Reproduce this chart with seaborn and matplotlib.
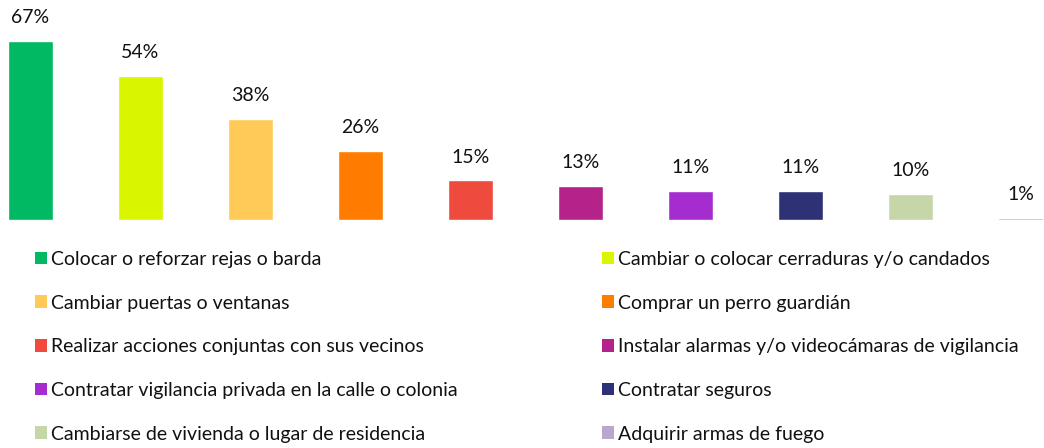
import matplotlib
matplotlib.use("Agg")
import matplotlib.pyplot as plt
import seaborn as sns
import pandas as pd
from matplotlib.patches import Patch

categories = [
    "Colocar o reforzar rejas o barda",
    "Cambiar o colocar cerraduras y/o candados",
    "Cambiar puertas o ventanas",
    "Comprar un perro guardián",
    "Realizar acciones conjuntas con sus vecinos",
    "Instalar alarmas y/o videocámaras de vigilancia",
    "Contratar vigilancia privada en la calle o colonia",
    "Contratar seguros",
    "Cambiarse de vivienda o lugar de residencia",
    "Adquirir armas de fuego",
]
values = [67, 54, 38, 26, 15, 13, 11, 11, 10, 1]
value_labels = ["67%", "54%", "38%", "26%", "15%", "13%", "11%", "11%", "10%", "1%"]
colors = ["#00B962", "#D9F500", "#FFCA57", "#FF7C00", "#EE4A3E",
          "#B5238A", "#A52DCF", "#2E3176", "#C5D6A8", "#B9A7CE"]

sns.set_style("white")
plt.rcParams["font.family"] = ["Lato", "DejaVu Sans"]

df = pd.DataFrame({"cat": categories, "val": values})

fig = plt.figure(figsize=(10.44, 4.48), dpi=100)
ax = fig.add_axes([0, 1 - 220.5 / 448, 1, 220.5 / 448])

sns.barplot(data=df, x="cat", y="val", hue="cat", palette=colors,
            order=categories, hue_order=categories, legend=False,
            width=0.41, saturation=1, ax=ax, dodge=False)

ax.set_xlim(-0.2773, 9.214)
ax.set_ylim(0, 82.3)
ax.axis("off")

for cont, lab in zip(ax.containers, value_labels):
    ax.bar_label(cont, labels=[lab], padding=10.5, fontsize=14, color="#111111")

handles = [Patch(facecolor=c, edgecolor="none") for c in colors]
common = dict(frameon=False, fontsize=14, handlelength=0.62, handleheight=0.62,
              handletextpad=0.22, labelspacing=1.37, borderpad=0, borderaxespad=0,
              labelcolor="#111111")
left_idx = [0, 2, 4, 6, 8]
right_idx = [1, 3, 5, 7, 9]
leg1 = fig.legend([handles[i] for i in left_idx], [categories[i] for i in left_idx],
                  loc="upper left", bbox_to_anchor=(35 / 1044, 1 - 251 / 448), **common)
leg2 = fig.legend([handles[i] for i in right_idx], [categories[i] for i in right_idx],
                  loc="upper left", bbox_to_anchor=(602 / 1044, 1 - 251 / 448), **common)

fig.savefig("out.png", dpi=100, facecolor="white")
